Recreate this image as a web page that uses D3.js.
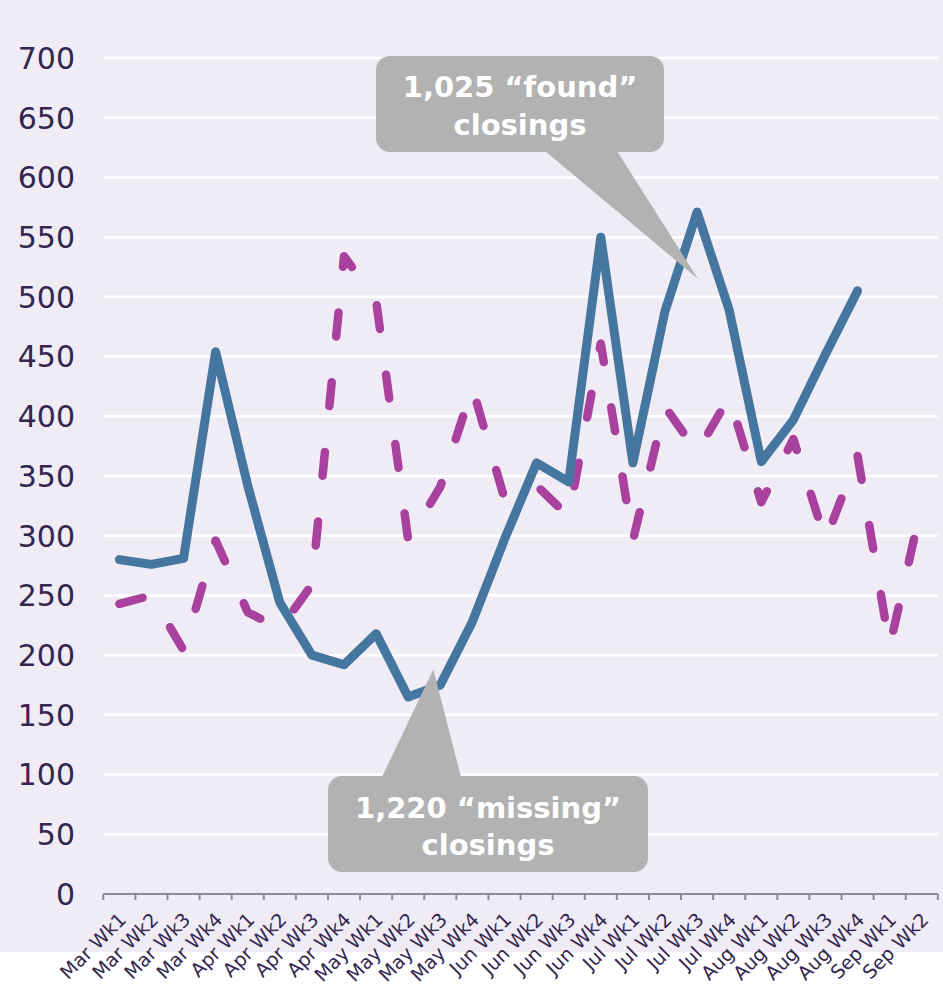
<!DOCTYPE html>
<html>
<head>
<meta charset="utf-8">
<script src="https://cdn.jsdelivr.net/npm/d3@7"></script>
<style>
  html, body { margin: 0; padding: 0; background: #ffffff; }
  svg { display: block; }
</style>
</head>
<body>
<div id="chart"></div>
<script>
var categories = ["Mar Wk1", "Mar Wk2", "Mar Wk3", "Mar Wk4",
    "Apr Wk1", "Apr Wk2", "Apr Wk3", "Apr Wk4",
    "May Wk1", "May Wk2", "May Wk3", "May Wk4",
    "Jun Wk1", "Jun Wk2", "Jun Wk3", "Jun Wk4",
    "Jul Wk1", "Jul Wk2", "Jul Wk3", "Jul Wk4",
    "Aug Wk1", "Aug Wk2", "Aug Wk3", "Aug Wk4",
    "Sep Wk1", "Sep Wk2"];

// solid blue series
var foundSeries = [280, 276, 281, 454, 342, 244, 200, 192, 218, 165, 175, 228, 297,
    361, 345, 550, 361, 488, 571, 489, 362, 397, 452, 505, null, null];

// dashed purple series
var missingSeries = [243, 250, 204, 296, 236, 222, 259, 534, 497, 296, 341, 424, 331,
    342, 316, 461, 296, 408, 370, 416, 328, 381, 296, 367, 207, 326];

var yTicks = [0, 50, 100, 150, 200, 250, 300, 350, 400, 450, 500, 550, 600, 650, 700];

var callouts = [
    { lines: ["1,025 \u201cfound\u201d", "closings"], tipCat: "Jul Wk3", tipValue: 515 },
    { lines: ["1,220 \u201cmissing\u201d", "closings"], tipCat: "May Wk3", tipValue: 188 }
];

function init() {
    var W = 943;
    var H = 1001;
    var left = 103.3, right = 937.8, top = 58, bottom = 894;

    var svg = d3.select("#chart")
        .append("svg")
        .attr("width", W)
        .attr("height", H);

    svg.append("rect")
        .attr("x", 0).attr("y", 0)
        .attr("width", W).attr("height", 952)
        .attr("fill", "#efecf5");

    var xScale = d3.scaleBand()
        .domain(categories)
        .range([left, right]);

    var yScale = d3.scaleLinear()
        .domain([0, 700])
        .range([bottom, top]);

    var bw = xScale.bandwidth();
    function cx(c) { return xScale(c) + bw / 2; }

    // gridlines
    svg.selectAll(".grid")
        .data(yTicks.filter(function (d) { return d > 0; }))
        .enter()
        .append("line")
        .attr("class", "grid")
        .attr("x1", left)
        .attr("x2", right)
        .attr("y1", function (d) { return yScale(d); })
        .attr("y2", function (d) { return yScale(d); })
        .attr("stroke", "#ffffff")
        .attr("stroke-width", 2.5);

    // y labels
    svg.selectAll(".ylab")
        .data(yTicks)
        .enter()
        .append("text")
        .attr("class", "ylab")
        .attr("x", 75)
        .attr("y", function (d) { return yScale(d); })
        .attr("dy", "0.36em")
        .attr("text-anchor", "end")
        .attr("font-family", "DejaVu Sans")
        .attr("font-size", 30)
        .attr("fill", "#33264f")
        .text(function (d) { return d; });

    // x axis
    svg.append("line")
        .attr("x1", left).attr("x2", right)
        .attr("y1", bottom).attr("y2", bottom)
        .attr("stroke", "#8d8998")
        .attr("stroke-width", 2);

    var tickPos = categories.map(function (c) { return xScale(c); }).concat([right]);
    svg.selectAll(".xtick")
        .data(tickPos)
        .enter()
        .append("line")
        .attr("class", "xtick")
        .attr("x1", function (d) { return d; })
        .attr("x2", function (d) { return d; })
        .attr("y1", bottom)
        .attr("y2", bottom + 6)
        .attr("stroke", "#8d8998")
        .attr("stroke-width", 2);

    svg.selectAll(".xlab")
        .data(categories)
        .enter()
        .append("text")
        .attr("class", "xlab")
        .attr("transform", function (d) {
            return "translate(" + (cx(d) + 8) + "," + (bottom + 27) + ") rotate(-45)";
        })
        .attr("text-anchor", "end")
        .attr("font-family", "DejaVu Sans")
        .attr("font-size", 19)
        .attr("fill", "#33264f")
        .text(function (d) { return d; });

    // series
    var line = d3.line()
        .defined(function (d) { return d != null; })
        .x(function (d, i) { return cx(categories[i]); })
        .y(function (d) { return yScale(d); });

    svg.append("path")
        .datum(missingSeries)
        .attr("d", line)
        .attr("fill", "none")
        .attr("stroke", "#a9419e")
        .attr("stroke-width", 8.5)
        .attr("stroke-linecap", "round")
        .attr("stroke-linejoin", "round")
        .attr("stroke-dasharray", "24,46");

    svg.append("path")
        .datum(foundSeries)
        .attr("d", line)
        .attr("fill", "none")
        .attr("stroke", "#44769f")
        .attr("stroke-width", 9)
        .attr("stroke-linecap", "round")
        .attr("stroke-linejoin", "round");

    // callouts
    var boxes = [
        { x: 376, y: 56, w: 288, h: 96, b1: 545, b2: 617, l1: 97, l2: 135 },
        { x: 328, y: 776, w: 320, h: 96, b1: 382, b2: 461, l1: 818, l2: 855 }
    ];

    callouts.forEach(function (c, i) {
        var b = boxes[i];
        var tx = cx(c.tipCat) + (i === 0 ? 1 : -7);
        var ty = yScale(c.tipValue);
        var edge = i === 0 ? b.y + b.h - 1 : b.y + 1;
        var g = svg.append("g");
        g.append("path")
            .attr("d", "M" + b.b1 + "," + edge + "L" + tx + "," + ty + "L" + b.b2 + "," + edge + "Z")
            .attr("fill", "#b1b2b1");
        g.append("rect")
            .attr("x", b.x).attr("y", b.y)
            .attr("width", b.w).attr("height", b.h)
            .attr("rx", 14)
            .attr("fill", "#b1b2b1");
        g.selectAll("text")
            .data(c.lines)
            .enter()
            .append("text")
            .attr("x", b.x + b.w / 2)
            .attr("y", function (d, j) { return j === 0 ? b.l1 : b.l2; })
            .attr("text-anchor", "middle")
            .attr("font-family", "DejaVu Sans")
            .attr("font-weight", "bold")
            .attr("font-size", 29)
            .attr("fill", "#ffffff")
            .text(function (d) { return d; });
    });
}

window.onload = init;
</script>
</body>
</html>
